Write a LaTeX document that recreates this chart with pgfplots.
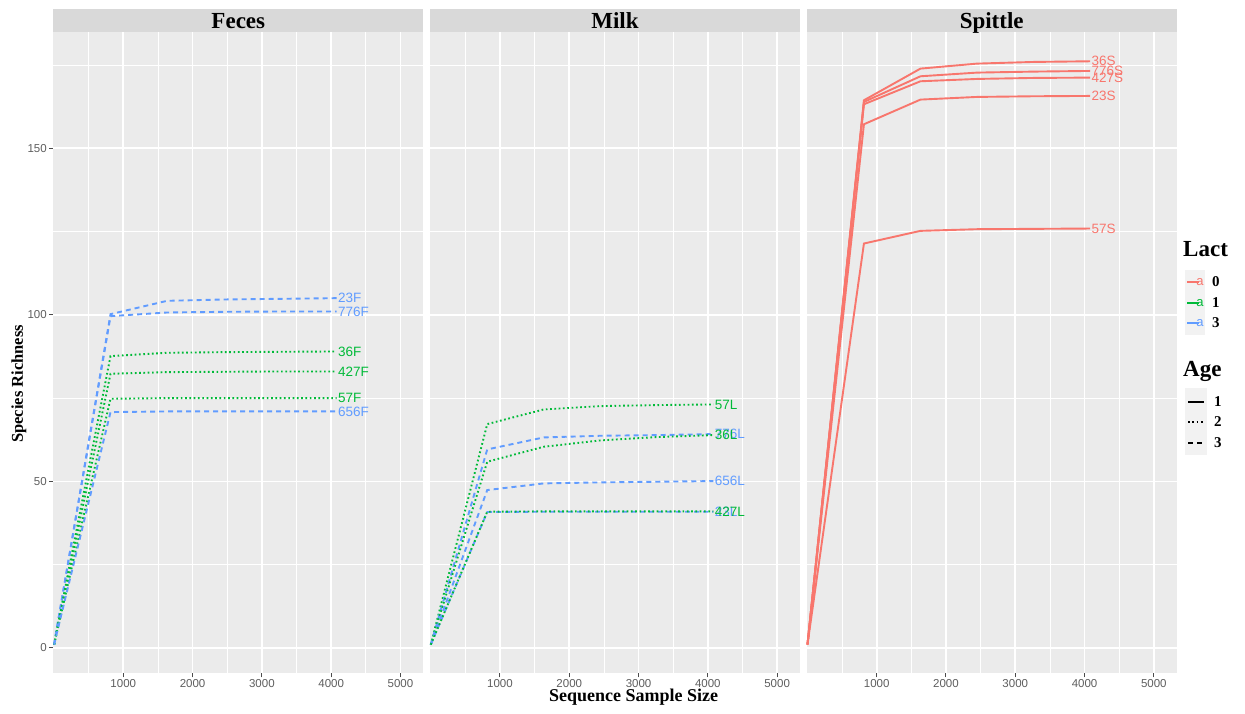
\documentclass[border=0pt]{standalone}
\usepackage{pgfplots}
\pgfplotsset{compat=1.18}
\usepackage{fontspec}
\setmainfont{Liberation Serif}
\setsansfont{Liberation Sans}
\definecolor{cR}{HTML}{F8766D}
\definecolor{cG}{HTML}{00BA38}
\definecolor{cB}{HTML}{619CFF}
\definecolor{panelbg}{HTML}{EBEBEB}
\definecolor{stripbg}{HTML}{D9D9D9}
\definecolor{ticklab}{HTML}{5E5E5E}
\definecolor{keybg}{HTML}{F2F2F2}
\tikzset{
  ggdash/.style={line width=1.9pt, dash pattern=on 5pt off 4pt},
  ggdot/.style={line width=1.9pt, dash pattern=on 1.7pt off 2.6pt},
  ggsolid/.style={line width=1.9pt, solid},
  lab/.style={anchor=west, inner sep=0.5pt, font=\fontsize{13.5}{14}\sffamily},
}
\pgfplotsset{
  gg/.style={
    anchor=south west, scale only axis, width=370pt, height=641pt,
    xmin=-10, xmax=5330, ymin=-7.6, ymax=184.8,
    clip=false,
    axis line style={draw=none},
    axis background/.style={fill=panelbg},
    xtick={1000,2000,3000,4000,5000},
    minor xtick={500,1500,2500,3500,4500},
    ytick={0,50,100,150}, minor ytick={25,75,125,175},
    grid=both,
    major grid style={white, line width=1.7pt},
    minor grid style={white, line width=0.8pt},
    tick align=outside, major tick length=4pt, minor tick length=0pt,
    tick style={color=ticklab!80!black, line width=1pt},
    xtick pos=lower, ytick pos=left,
    xticklabel style={font=\fontsize{11.5}{12}\sffamily, text=ticklab, yshift=1pt},
    yticklabel style={font=\fontsize{11.5}{12}\sffamily, text=ticklab, xshift=1pt},
    /pgf/number format/assume math mode=true,
    /pgf/number format/1000 sep={},
  }
}
\begin{document}
\begin{tikzpicture}[x=1pt,y=1pt]
\path[use as bounding box] (0,0) rectangle (1245,713);

% ---------------- Feces ----------------
\begin{axis}[gg, at={(53.3pt,39.7pt)}]
\addplot[cB, ggdash] coordinates {(1,1) (816,100.2) (1632,104.2) (2448,104.6) (3264,104.8) (4080,105)} node[pos=1, lab, text=cB]{23F};
\addplot[cB, ggdash] coordinates {(1,1) (816,99.6) (1632,100.7) (2448,100.9) (3264,101) (4080,101)} node[pos=1, lab, text=cB]{776F};
\addplot[cG, ggdot] coordinates {(1,1) (816,87.6) (1632,88.6) (2448,88.8) (3264,88.9) (4080,89)} node[pos=1, lab, text=cG]{36F};
\addplot[cG, ggdot] coordinates {(1,1) (816,82.3) (1632,82.8) (2448,82.9) (3264,83) (4080,83)} node[pos=1, lab, text=cG]{427F};
\addplot[cG, ggdot] coordinates {(1,1) (816,74.8) (1632,75) (2448,75) (3264,75) (4080,75)} node[pos=1, lab, text=cG]{57F};
\addplot[cB, ggdash] coordinates {(1,1) (816,70.8) (1632,71) (2448,71) (3264,71) (4080,71)} node[pos=1, lab, text=cB]{656F};
\end{axis}

% ---------------- Milk ----------------
\begin{axis}[gg, at={(430pt,39.7pt)}, yticklabels={}, ytick style={draw=none}]
\addplot[cG, ggdot] coordinates {(1,1) (816,67.2) (1632,71.6) (2448,72.6) (3264,72.9) (4080,73.1)} node[pos=1, lab, text=cG]{57L};
\addplot[cB, ggdash] coordinates {(1,1) (816,59.6) (1632,63.2) (2448,63.7) (3264,63.9) (4080,64.2)} node[pos=1, lab, text=cB]{776L};
\addplot[cG, ggdot] coordinates {(1,1) (816,55.9) (1632,60.4) (2448,62.3) (3264,63.3) (4080,63.9)} node[pos=1, lab, text=cG]{36L};
\addplot[cB, ggdash] coordinates {(1,1) (816,47.4) (1632,49.4) (2448,49.7) (3264,49.9) (4080,50.1)} node[pos=1, lab, text=cB]{656L};
\addplot[cB, ggdash] coordinates {(1,1) (816,40.8) (1632,40.9) (2448,40.9) (3264,40.9) (4080,40.9)} node[pos=1, lab, text=cB]{23L};
\addplot[cG, ggdot] coordinates {(1,1) (816,40.9) (1632,41) (2448,41) (3264,41) (4080,41)} node[pos=1, lab, text=cG]{427L};
\end{axis}

% ---------------- Spittle ----------------
\begin{axis}[gg, at={(806.7pt,39.7pt)}, yticklabels={}, ytick style={draw=none}]
\addplot[cR, ggsolid] coordinates {(1,1) (816,164.4) (1632,173.9) (2448,175.4) (3264,175.9) (4080,176.1)} node[pos=1, lab, text=cR]{36S};
\addplot[cR, ggsolid] coordinates {(1,1) (816,163.9) (1632,171.6) (2448,172.7) (3264,173.0) (4080,173.2)} node[pos=1, lab, text=cR]{776S};
\addplot[cR, ggsolid] coordinates {(1,1) (816,163.2) (1632,170.1) (2448,170.8) (3264,171.1) (4080,171.2)} node[pos=1, lab, text=cR]{427S};
\addplot[cR, ggsolid] coordinates {(1,1) (816,157.2) (1632,164.6) (2448,165.4) (3264,165.6) (4080,165.7)} node[pos=1, lab, text=cR]{23S};
\addplot[cR, ggsolid] coordinates {(1,1) (816,121.4) (1632,125.2) (2448,125.7) (3264,125.8) (4080,125.9)} node[pos=1, lab, text=cR]{57S};
\end{axis}

% strips
\fill[stripbg] (53.3,680.7) rectangle (423.3,703.7);
\fill[stripbg] (430,680.7) rectangle (800,703.7);
\fill[stripbg] (806.7,680.7) rectangle (1176.7,703.7);
\node[anchor=base, inner sep=0, font=\fontsize{23}{24}\selectfont\bfseries] at (238.3,684.7) {Feces};
\node[anchor=base, inner sep=0, font=\fontsize{23}{24}\selectfont\bfseries] at (615,684.7) {Milk};
\node[anchor=base, inner sep=0, font=\fontsize{23}{24}\selectfont\bfseries] at (991.7,684.7) {Spittle};

% axis titles
\node[rotate=90, inner sep=0, font=\fontsize{16.5}{18}\selectfont\bfseries] at (19,329) {Species Richness};
\node[inner sep=0, font=\fontsize{18}{20}\selectfont\bfseries] at (633.5,16) {Sequence Sample Size};

% legend: Lact
\node[anchor=west, inner sep=0, font=\fontsize{23}{24}\selectfont\bfseries] at (1183,464) {Lact};
\fill[keybg] (1185,378) rectangle (1205,443);
\foreach \y/\c/\t in {431/cR/0, 410/cG/1, 390/cB/3} {
  \draw[\c, line width=1.7pt] (1187,\y) -- (1199,\y);
  \node[text=\c, inner sep=0, font=\fontsize{13}{14}\sffamily] at (1200,\y) {a};
  \node[anchor=west, inner sep=0, font=\fontsize{15}{16}\selectfont\bfseries] at (1212,\y) {\t};
}
% legend: Age
\node[anchor=west, inner sep=0, font=\fontsize{23}{24}\selectfont\bfseries] at (1183,342) {Age};
\fill[keybg] (1185,258) rectangle (1207,325);
\draw[black, ggsolid] (1188,311) -- (1204,311);
\draw[black, ggdot] (1188,291) -- (1204,291);
\draw[black, ggdash] (1188,270) -- (1204,270);
\node[anchor=west, inner sep=0, font=\fontsize{15}{16}\selectfont\bfseries] at (1214,311) {1};
\node[anchor=west, inner sep=0, font=\fontsize{15}{16}\selectfont\bfseries] at (1214,291) {2};
\node[anchor=west, inner sep=0, font=\fontsize{15}{16}\selectfont\bfseries] at (1214,270) {3};
\end{tikzpicture}
\end{document}
